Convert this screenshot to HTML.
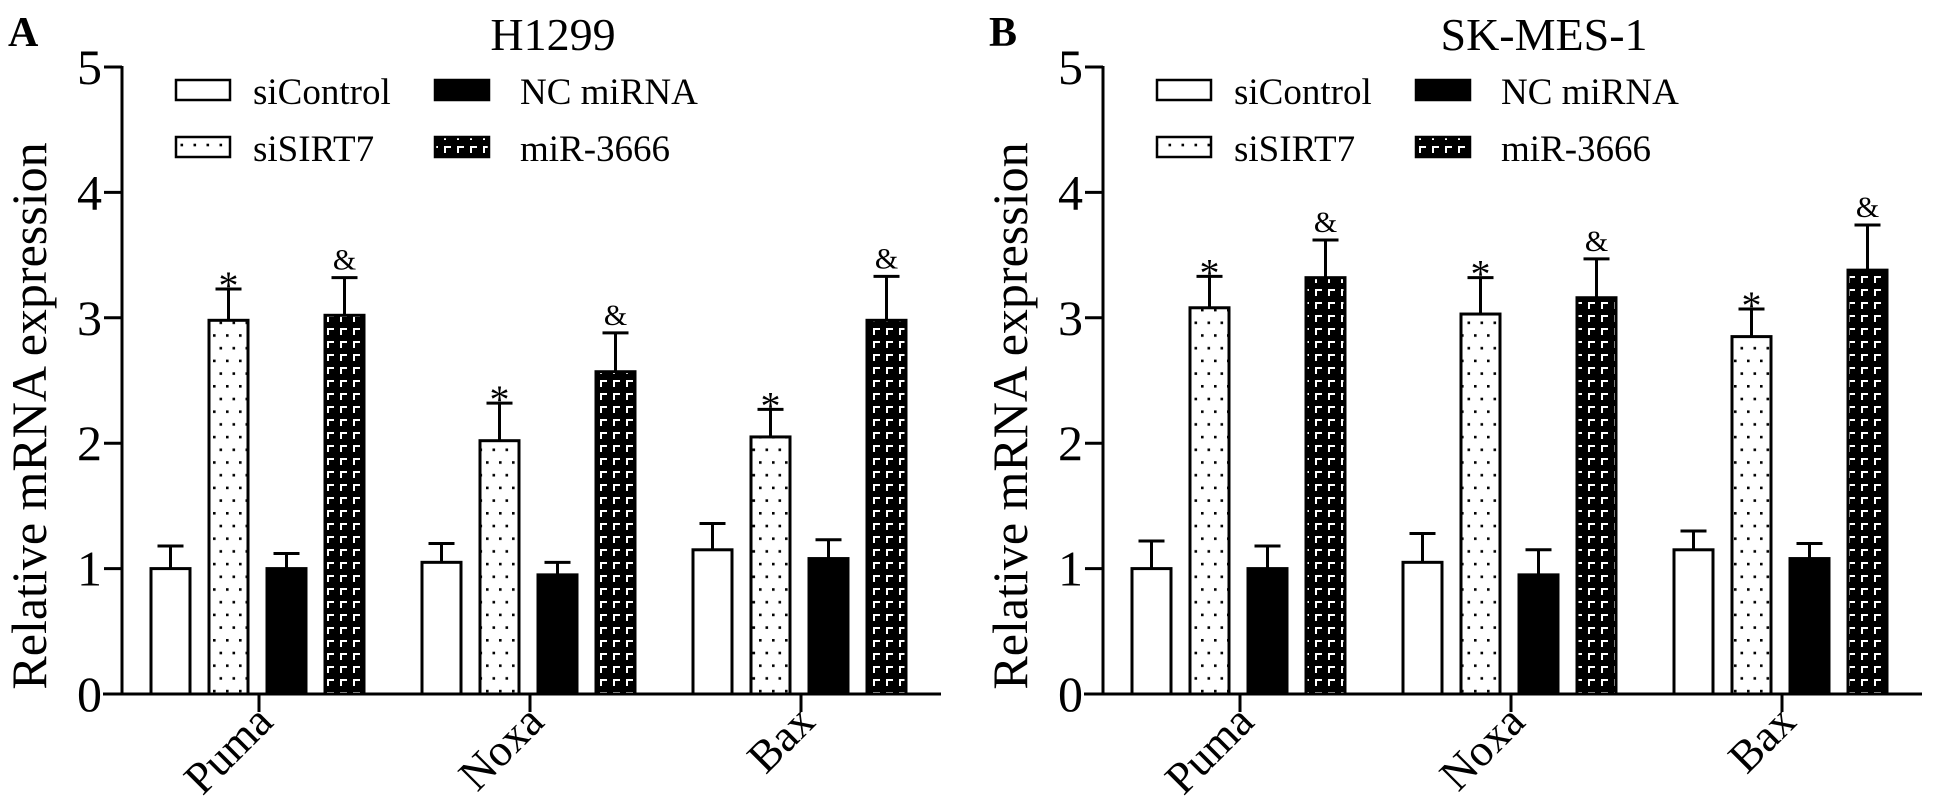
<!DOCTYPE html>
<html><head><meta charset="utf-8">
<style>
html,body{margin:0;padding:0;background:#fff;}
svg{display:block;font-family:"Liberation Serif",serif;}
</style></head>
<body>
<svg id="fig" width="1937" height="810" viewBox="0 0 1937 810" xmlns="http://www.w3.org/2000/svg">
<defs>
<pattern id="dots" width="13" height="25.4" patternUnits="userSpaceOnUse">
<rect width="13" height="25.4" fill="#fff"/>
<rect x="5" y="4" width="2.6" height="2.6" fill="#000"/>
<rect x="11.5" y="16.7" width="2.6" height="2.6" fill="#000"/>
<rect x="-1.5" y="16.7" width="2.6" height="2.6" fill="#000"/>
</pattern>
<pattern id="brick" width="13" height="13" patternUnits="userSpaceOnUse">
<rect width="13" height="13" fill="#000"/>
<path d="M3 10 V4 H9" stroke="#fff" stroke-width="2" fill="none"/>
</pattern>
</defs>
</svg>
<script>
const categories = ["Puma","Noxa","Bax"];
const series = ["siControl","siSIRT7","NC miRNA","miR-3666"];
const yTicks = [0,1,2,3,4,5];
const aMeans = [[1.0,2.98,1.0,3.02],[1.05,2.02,0.95,2.57],[1.15,2.05,1.08,2.98]];
const aErr   = [[0.18,0.25,0.12,0.30],[0.15,0.30,0.10,0.31],[0.21,0.22,0.15,0.35]];
const bMeans = [[1.0,3.08,1.0,3.32],[1.05,3.03,0.95,3.16],[1.15,2.85,1.08,3.38]];
const bErr   = [[0.22,0.25,0.18,0.30],[0.23,0.29,0.20,0.31],[0.15,0.22,0.12,0.36]];
const marks = ["","*","","&"];

const NS="http://www.w3.org/2000/svg";
const svg=document.getElementById('fig');
function el(tag,attrs,parent,text){const e=document.createElementNS(NS,tag);for(const k in attrs)e.setAttribute(k,attrs[k]);if(text!==undefined)e.textContent=text;(parent||svg).appendChild(e);return e;}
const fills=["#fff","url(#dots)","#000","url(#brick)"];

function panel(off,letter,title,titleX,means,errs,pname){
  const g=el('g',{});
  
  
  const ax=122+off, y0=694, unit=125.4;
  const Y=v=>y0-v*unit;
  const groupX=i=>259+off+i*271;
  const barX=j=>-108+j*58;
  const bw=39;
  const t1=el('text',{x:8+off,y:46,'font-size':42,'font-weight':'bold'},g,letter);
  
  
  const t2=el('text',{x:titleX,y:50,'font-size':46,'text-anchor':'middle'},g,title);
  
  
  const ya=el('line',{x1:ax,y1:Y(5)-1,x2:ax,y2:y0+1.5,stroke:'#000','stroke-width':3},g);
  
  
  yTicks.forEach(v=>{
    el('line',{x1:ax-18,y1:Y(v),x2:ax,y2:Y(v),stroke:'#000','stroke-width':3},g);
    const tl=el('text',{x:ax-20,y:Y(v)+17,'font-size':50,'text-anchor':'end'},g,String(v));
    
    
  });
  const yt=el('text',{x:0,y:0,'font-size':50,'text-anchor':'middle',transform:`translate(${46+off},416) rotate(-90)`},g,'Relative mRNA expression');
  
  
  const xa=el('line',{x1:103+off,y1:y0,x2:941+off,y2:y0,stroke:'#000','stroke-width':3},g);
  
  
  categories.forEach((c,i)=>{
    const gx=groupX(i);
    el('line',{x1:gx,y1:y0,x2:gx,y2:y0+18,stroke:'#000','stroke-width':3},g);
    const xl=el('text',{x:0,y:0,'font-size':45,'text-anchor':'end',transform:`translate(${gx+16},${y0+30}) rotate(-45)`},g,c);
    
    
    series.forEach((s,j)=>{
      const x=gx+barX(j), v=means[i][j], e=errs[i][j];
      const cx=x+bw/2;
      const eb=el('path',{d:`M${cx} ${Y(v)} V${Y(v+e)} M${cx-13} ${Y(v+e)} H${cx+13}`,stroke:'#000','stroke-width':3,fill:'none'},g);
      
      
      const r=el('rect',{x:x,y:Y(v),width:bw,height:v*unit,fill:fills[j],stroke:'#000','stroke-width':3},g);
      
      
      if(marks[j]){
        const m=j==1
          ? el('text',{x:cx,y:Y(v+e)+10,'font-size':40,'text-anchor':'middle'},g,marks[j])
          : el('text',{x:cx,y:Y(v+e)-8,'font-size':30,'text-anchor':'middle'},g,marks[j]);
        
        
      }
    });
  });
  const lx=[176+off,176+off,435+off,435+off], ly=[80,137,80,137];
  const tx=[253+off,253+off,520+off,520+off];
  series.forEach((s,j)=>{
    const lr=el('rect',{x:lx[j],y:ly[j],width:54,height:20,fill:fills[j],stroke:'#000','stroke-width':2.5},g);
    
    
    const lt=el('text',{x:tx[j],y:ly[j]+24,'font-size':37},g,s);
    
    
  });
}
panel(0,'A','H1299',553,aMeans,aErr,'panel-a');
panel(981,'B','SK-MES-1',1544,bMeans,bErr,'panel-b');
</script>
</body></html>
